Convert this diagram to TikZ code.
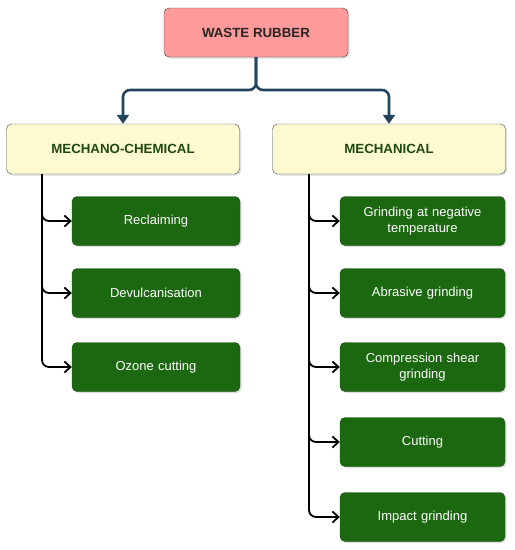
\documentclass[tikz,border=0pt]{standalone}
\usepackage{fontspec}
\setmainfont{Liberation Sans}
\usetikzlibrary{arrows.meta,shadows}
\definecolor{topfill}{HTML}{FF9A9A}
\definecolor{yelfill}{HTML}{FDF9D0}
\definecolor{grnfill}{HTML}{1C6810}
\definecolor{yeltext}{HTML}{1F4A12}
\definecolor{bluecon}{HTML}{23445D}
\tikzset{
  topbox/.style={draw=black!75, fill=topfill, rounded corners=5pt, minimum width=184pt, minimum height=49pt, font=\bfseries\fontsize{13.3}{15}\selectfont, text=black!85, drop shadow={shadow xshift=1.5pt, shadow yshift=-1.5pt, opacity=0.25}},
  catbox/.style={draw=black!70, fill=yelfill, rounded corners=5pt, minimum width=233pt, minimum height=50pt, font=\bfseries\fontsize{13.3}{15}\selectfont, text=yeltext, drop shadow={shadow xshift=1.5pt, shadow yshift=-1.5pt, opacity=0.25}},
  leafbox/.style={draw=grnfill!80!black, fill=grnfill, rounded corners=5pt, minimum height=49pt, text=white, align=center, font=\fontsize{13}{16}\selectfont, drop shadow={shadow xshift=1.5pt, shadow yshift=-1.5pt, opacity=0.25}},
  leafL/.style={leafbox, minimum width=168pt, text width=155pt},
  leafR/.style={leafbox, minimum width=165pt, text width=155pt},
  bcon/.style={draw=bluecon, line width=2.6pt, rounded corners=7pt, -{Triangle[length=9pt,width=12pt]}},
  kcon/.style={draw=black, line width=1.8pt, rounded corners=7pt, -{Straight Barb[length=6pt,width=11pt]}}
}
\begin{document}
\begin{tikzpicture}[x=1pt,y=-1pt]
\useasboundingbox (0,0) rectangle (515,550);
\node[topbox] (top) at (256,32.5) {WASTE RUBBER};
\node[catbox] (mc) at (123,149) {MECHANO-CHEMICAL};
\node[catbox] (me) at (389,149) {MECHANICAL};
\node[leafL] (l1) at (156,221) {Reclaiming};
\node[leafL] (l2) at (156,293) {Devulcanisation};
\node[leafL] (l3) at (156,367) {Ozone cutting};
\node[leafR] (r1) at (422.5,221) {Grinding at negative\\temperature};
\node[leafR] (r2) at (422.5,293) {Abrasive grinding};
\node[leafR] (r3) at (422.5,367) {Compression shear\\grinding};
\node[leafR] (r4) at (422.5,442) {Cutting};
\node[leafR] (r5) at (422.5,517) {Impact grinding};
\coordinate (jn) at (256,90);
\draw[bcon] (top.south) -- (jn) -| (mc.north);
\draw[bcon] (top.south) -- (jn) -| (me.north);
\coordinate (lx) at (42,174);
\coordinate (rx) at (309,174);
\foreach \n in {l1,l2,l3}{\draw[kcon] (lx) |- (\n.west);}
\foreach \n in {r1,r2,r3,r4,r5}{\draw[kcon] (rx) |- (\n.west);}
\end{tikzpicture}
\end{document}
